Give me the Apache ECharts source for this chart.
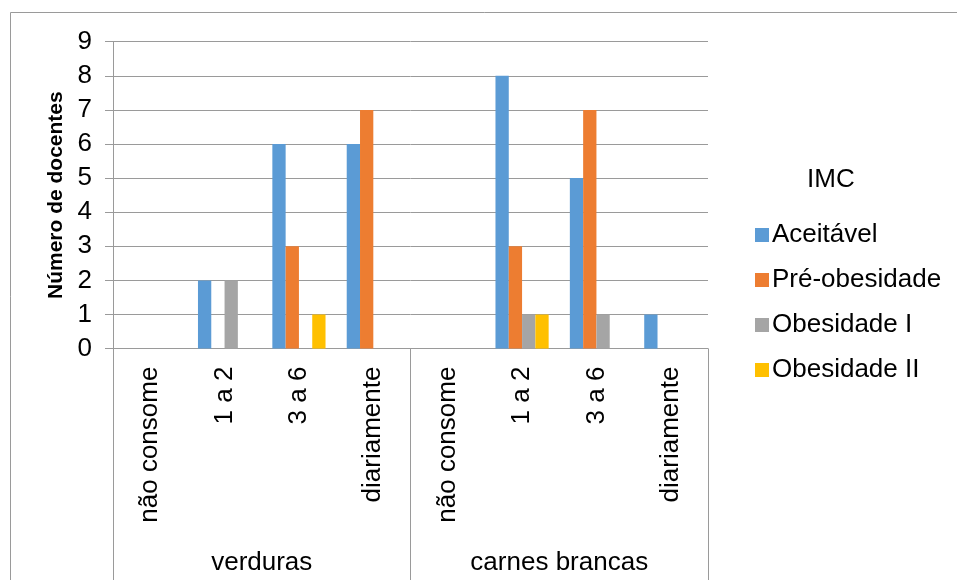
<!DOCTYPE html>
<html>
<head>
<meta charset="utf-8">
<script src="https://cdn.jsdelivr.net/npm/echarts@6/dist/echarts.min.js"></script>
<style>
  html, body { margin: 0; padding: 0; background: #fff; }
  #chart { width: 957px; height: 580px; }
</style>
</head>
<body>
<div id="chart"></div>
<script>
// Consumption frequency per food group, by BMI class
const frequencies = ['não consome', '1 a 2', '3 a 6', 'diariamente',
                     'não consome', '1 a 2', '3 a 6', 'diariamente'];
const foodGroups = ['verduras', 'carnes brancas'];
const seriesNames = ['Aceitável', 'Pré-obesidade', 'Obesidade I', 'Obesidade II'];
const aceitavel    = [0, 2, 6, 6, 0, 8, 5, 1];
const preObesidade = [0, 0, 3, 7, 0, 3, 7, 0];
const obesidadeI   = [0, 2, 0, 0, 0, 1, 1, 0];
const obesidadeII  = [0, 0, 1, 0, 0, 1, 0, 0];
const yTicks = [0, 9, 1];  // min, max, step
const colors = ['#5B9BD5', '#ED7D31', '#A5A5A5', '#FFC000'];

const FONT = 'Liberation Sans, Arial, sans-serif';
const GRAY = '#9a9a9a';

const chart = echarts.init(document.getElementById('chart'), null, { renderer: 'canvas' });

const values = [aceitavel, preObesidade, obesidadeI, obesidadeII];

chart.setOption({
  animation: false,
  backgroundColor: '#fff',
  color: colors,
  textStyle: { fontFamily: FONT, color: '#000' },
  grid: { left: 113, right: 249, top: 41.7, bottom: 231.4, containLabel: false },
  graphic: [
    { type: 'rect', shape: { x: 10.5, y: 12.5, width: 1000, height: 700 },
      style: { fill: 'none', stroke: GRAY, lineWidth: 1 }, silent: true }
  ],
  legend: {
    orient: 'vertical',
    left: 750,
    top: 217,
    itemWidth: 14,
    itemHeight: 14,
    itemGap: 19,
    icon: 'rect',
    data: seriesNames,
    textStyle: { fontFamily: FONT, fontSize: 26, color: '#000', padding: [0, 0, 0, -2] }
  },
  title: {
    text: 'IMC',
    left: 802,
    top: 162,
    textStyle: { fontFamily: FONT, fontSize: 26, fontWeight: 'normal', color: '#000' }
  },
  xAxis: [
    {
      type: 'category',
      data: frequencies,
      position: 'bottom',
      axisLine: { show: true, lineStyle: { color: GRAY, width: 1 } },
      axisTick: { show: false },
      axisLabel: {
        interval: 0, rotate: 90, margin: 18,
        fontFamily: FONT, fontSize: 26, color: '#000'
      },
      splitLine: { show: false }
    },
    {
      type: 'category',
      data: foodGroups,
      position: 'bottom',
      axisLine: { show: false },
      axisTick: { show: true, alignWithLabel: false, interval: 0, length: 240, inside: false,
                  lineStyle: { color: GRAY, width: 1 } },
      axisLabel: { interval: 0, margin: 201, fontFamily: FONT, fontSize: 26, color: '#000' },
      splitLine: { show: false }
    }
  ],
  yAxis: {
    type: 'value',
    min: yTicks[0],
    max: yTicks[1],
    interval: yTicks[2],
    name: 'Número de docentes',
    nameLocation: 'middle',
    nameGap: 46,
    nameRotate: 90,
    nameTextStyle: { fontFamily: FONT, fontSize: 21, fontWeight: 'bold', color: '#000' },
    axisLine: { show: true, lineStyle: { color: GRAY, width: 1 } },
    axisTick: { show: true, length: 8, lineStyle: { color: GRAY } },
    axisLabel: { margin: 21, fontFamily: FONT, fontSize: 26, color: '#000' },
    splitLine: { show: true, lineStyle: { color: GRAY, width: 1 } }
  },
  series: seriesNames.map((name, i) => ({
    name: name,
    type: 'bar',
    xAxisIndex: 0,
    data: values[i],
    barGap: '0%',
    barCategoryGap: '28.5%',
    itemStyle: { color: colors[i] }
  }))
});
</script>
</body>
</html>
